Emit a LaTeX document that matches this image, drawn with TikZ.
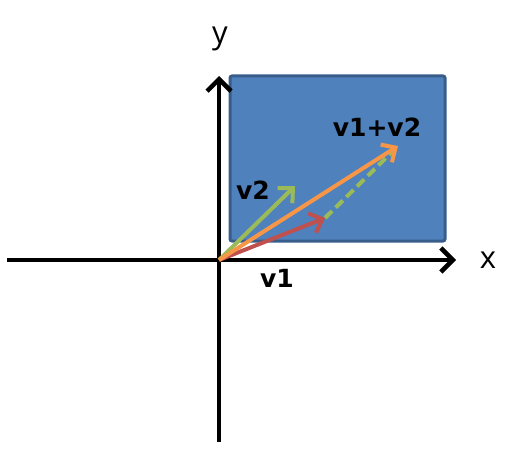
\documentclass[tikz,border=0pt]{standalone}
\usepackage{fontspec}
\setmainfont{Open Sans}
\newfontfamily\lblfont{DejaVu Sans}
\usetikzlibrary{arrows.meta}
\definecolor{boxfill}{HTML}{4F81BD}
\definecolor{boxline}{HTML}{385D8A}
\definecolor{vgreen}{HTML}{9BBB59}
\definecolor{vred}{HTML}{C0504D}
\definecolor{vorange}{HTML}{F79646}
\begin{document}
\begin{tikzpicture}[x=1pt,y=-1pt,
  axis/.style={line width=4.5pt,black,-{Straight Barb[length=12pt,width=24pt,line width=4.5pt]}},
  vec/.style={line width=4pt,-{Straight Barb[length=11pt,width=21pt,line width=4pt]}},
  lbl/.style={font=\lblfont\fontsize{25}{30}\selectfont\bfseries,inner sep=0pt},
  axlbl/.style={font=\fontsize{31}{36}\selectfont,inner sep=0pt}]
\useasboundingbox (0,0) rectangle (521,454);
\node[draw=boxline,fill=boxfill,line width=3pt,rounded corners=2pt,minimum width=215pt,minimum height=165pt,inner sep=0pt] (box) at (337.5,158.5) {};
\coordinate (o) at (219,260);
\coordinate (xl) at (7,260);
\coordinate (xr) at (456,260);
\coordinate (yb) at (219,442);
\coordinate (yt) at (219,76);
\coordinate (v1) at (325,218);
\coordinate (v2) at (295,186);
\coordinate (s) at (398,146);
\draw[axis] (xl) -- (xr);
\draw[axis] (yb) -- (yt);
\draw[vgreen,line width=4pt,dash pattern=on 10pt off 5pt] (v1) -- (392,152);
\draw[vec,vgreen] (o) -- (v2);
\draw[vec,vred] (o) -- (v1);
\draw[vec,vorange] (o) -- (s);
\node[lbl] (l1) at (277,278) {v1};
\node[lbl] (l2) at (253,190) {v2};
\node[lbl] (ls) at (377,127) {v1+v2};
\node[axlbl] (lx) at (488,260) {x};
\node[axlbl] (ly) at (220,39) {y};
\end{tikzpicture}
\end{document}
